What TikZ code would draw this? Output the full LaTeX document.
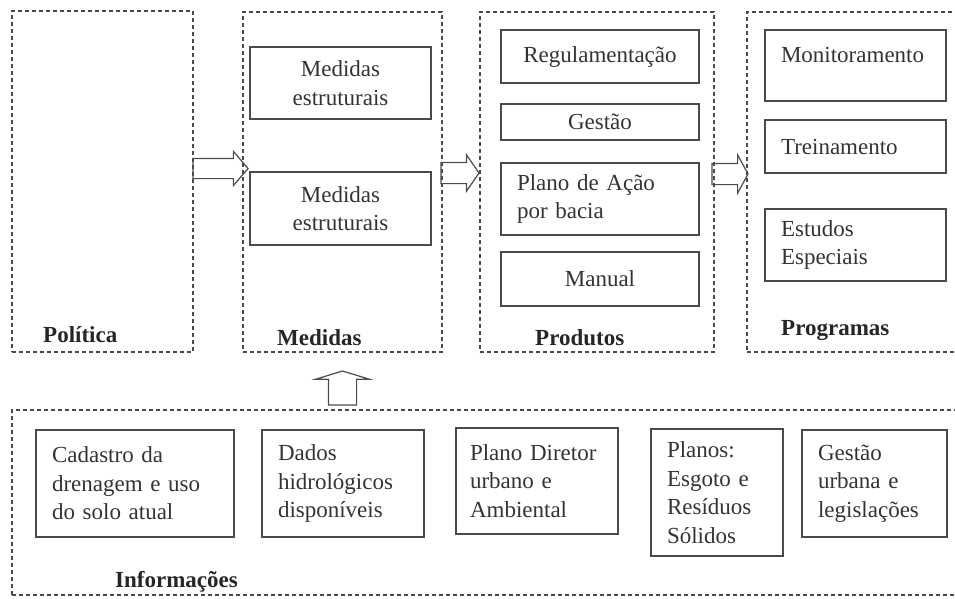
\documentclass[tikz,border=0pt]{standalone}
\usepackage{fontspec}
\setmainfont{Liberation Serif}
\usetikzlibrary{shapes.arrows}
\definecolor{linegray}{HTML}{4A4A4A}
\definecolor{textgray}{HTML}{333333}
\tikzset{
  group/.style={draw=linegray, line width=1.25pt, dash pattern=on 4pt off 3pt,
    rectangle, anchor=north west, inner sep=0pt, outer sep=0pt},
  item/.style={draw=linegray, line width=1.2pt, rectangle, anchor=north west,
    align=left, inner xsep=16pt, inner ysep=0pt, outer sep=0pt, text=textgray,
    font=\fontsize{23}{28.5}\selectfont},
  title/.style={anchor=base west, inner sep=0pt, text=black!85,
    font=\fontsize{23}{28.5}\selectfont\bfseries},
  blockarrow/.style={shape=single arrow, draw=black!70, line width=1.2pt,
    inner xsep=0pt, outer sep=0pt, single arrow head indent=0pt, anchor=tail}
}
\begin{document}
\begin{tikzpicture}[x=1pt, y=-1pt]
  \clip (0,0) rectangle (955,598);
  % groups
  \node[group, minimum width=181pt, minimum height=341pt] (pol) at (12,11) {};
  \node[group, minimum width=199pt, minimum height=340pt] (med) at (243,12) {};
  \node[group, minimum width=234pt, minimum height=340pt] (prod) at (480,12) {};
  \node[group, minimum width=223pt, minimum height=340pt] (prog) at (747,12) {};
  \node[group, minimum width=958pt, minimum height=185pt] (info) at (12,410) {};
  \node[title] (polt) at (43,342) {Política};
  \node[title] (medt) at (277,345) {Medidas};
  \node[title] (prodt) at (535,345) {Produtos};
  \node[title] (progt) at (781,335) {Programas};
  \node[title] (infot) at (115,587) {Informações};
  % Medidas
  \node[item, align=center, text width=149pt, minimum height=72pt] (med1) at (250,47) {Medidas\\estruturais};
  \node[item, align=center, text width=149pt, minimum height=73pt] (med2) at (250,172) {Medidas\\estruturais};
  % Produtos
  \node[item, align=center, text width=166pt, minimum height=53pt] (reg) at (501,30) {Regulamentação};
  \node[item, align=center, text width=166pt, minimum height=36pt] (ges) at (501,104) {Gestão};
  \node[item, text width=166pt, minimum height=72pt] (acao) at (501,163) {Plano de Ação\\por bacia};
  \node[item, align=center, text width=166pt, minimum height=54pt] (man) at (501,252) {Manual};
  % Programas
  \node[item, text width=149pt, minimum height=71pt] (mon) at (765,30) {Monitoramento\rule[-22pt]{0pt}{0pt}};
  \node[item, text width=149pt, minimum height=53pt] (trei) at (765,120) {Treinamento};
  \node[item, text width=149pt, minimum height=72pt] (est) at (765,209) {Estudos\\Especiais};
  % Informacoes
  \node[item, text width=166pt, minimum height=107pt] (cad) at (36,430) {Cadastro da\\drenagem e uso\\do solo atual};
  \node[item, text width=130pt, minimum height=107pt] (dad) at (262,430) {Dados\\hidrológicos\\disponíveis};
  \node[item, inner xsep=14pt, text width=134pt, minimum height=106pt] (pdir) at (456,428) {Plano Diretor\\urbano e\\Ambiental};
  \node[item, text width=100pt, minimum height=127pt] (pla) at (651,429) {Planos:\\Esgoto e\\Resíduos\\Sólidos};
  \node[item, text width=113pt, minimum height=107pt] (gurb) at (802,430) {Gestão\\urbana e\\legislações};
  % arrows
  \node[blockarrow, inner ysep=9.5pt, minimum height=55pt, single arrow head extend=7pt,
    single arrow tip angle=99] (a1) at (pol.east |- 0,168.5) {};
  \node[blockarrow, inner ysep=10pt, minimum height=38pt, single arrow head extend=7.5pt,
    single arrow tip angle=111] (a2) at ([xshift=-1pt]med.east |- 0,173) {};
  \node[blockarrow, inner ysep=10pt, minimum height=36pt, single arrow head extend=8.5pt,
    single arrow tip angle=123] (a3) at ([xshift=-2pt]prod.east |- 0,174) {};
  \node[blockarrow, shape border rotate=90, inner xsep=13.5pt, inner ysep=0pt, minimum height=34pt,
    single arrow head extend=13pt, single arrow tip angle=146] (a4) at ([yshift=5pt]info.north -| med.south) {};
\end{tikzpicture}
\end{document}
